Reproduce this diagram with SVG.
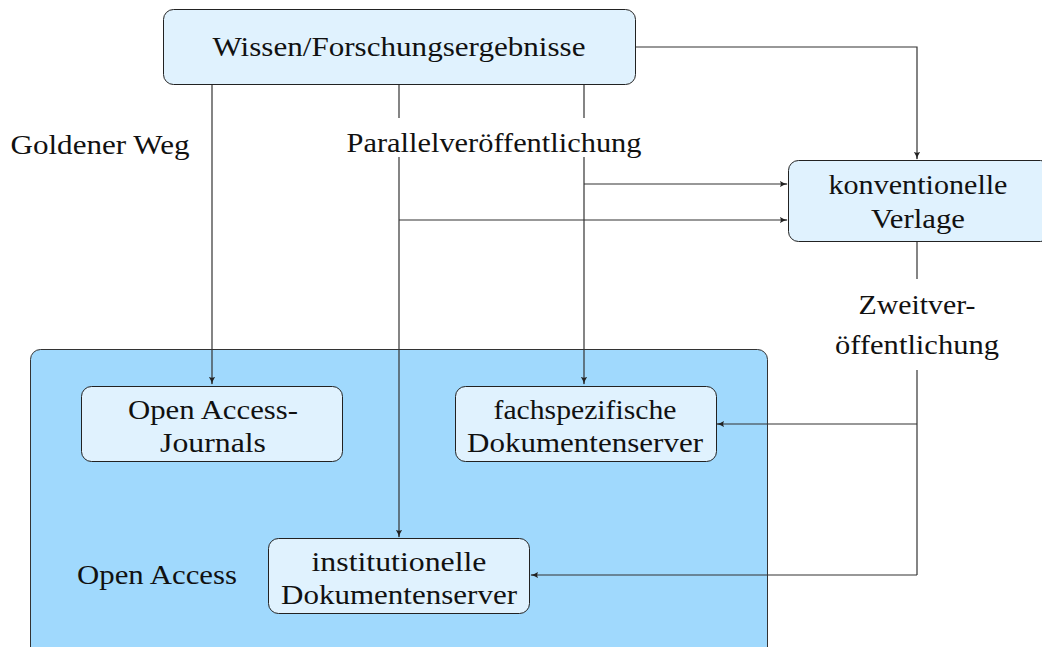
<svg xmlns="http://www.w3.org/2000/svg" width="1042" height="647" viewBox="0 0 1042 647">
  <defs>
    <marker id="arrow" viewBox="0 0 10 10" refX="9" refY="5" markerWidth="8" markerHeight="8" markerUnits="userSpaceOnUse" orient="auto">
      <path d="M0,1 Q5,4.5 10,5 Q5,5.5 0,9 Q2.5,5 0,1 Z" fill="#222"/>
    </marker>
    <style>
      .node { fill: #e0f2fe; stroke: #222; stroke-width: 1; }
      .region { fill: #a0d9fd; stroke: #333; stroke-width: 1; }
      .lbl { font-family: "Liberation Serif", "DejaVu Serif", serif; font-size: 27px; fill: #111; text-anchor: middle; }
      .edge { fill: none; stroke: #333; stroke-width: 1.2; }
      .arr { marker-end: url(#arrow); }
      .mask { fill: #fff; }
    </style>
  </defs>

  <!-- Open Access area -->
  <g id="open-access">
    <rect class="region" x="30.5" y="349.5" width="737" height="310" rx="10"/>
    <text class="lbl" x="157" y="584" textLength="160" lengthAdjust="spacingAndGlyphs">Open Access</text>
  </g>

  <!-- connectors -->
  <g id="connectors">
    <path class="edge arr" d="M212,85 V384"/>
    <path class="edge arr" d="M399,85 V537"/>
    <path class="edge arr" d="M584,85 V384"/>
    <path class="edge arr" d="M584,184 H787"/>
    <path class="edge arr" d="M399,220 H787"/>
    <path class="edge arr" d="M636,47 H917 V159"/>
    <path class="edge" d="M917,242 V575"/>
    <path class="edge arr" d="M917,424 H717"/>
    <path class="edge arr" d="M917,575 H531"/>
  </g>

  <!-- edge labels -->
  <g id="label-goldener-weg">
    <text class="lbl" x="100" y="154" textLength="179" lengthAdjust="spacingAndGlyphs">Goldener Weg</text>
  </g>
  <g id="label-parallel">
    <rect class="mask" x="343" y="118" width="302" height="39"/>
    <text class="lbl" x="494" y="152" textLength="295" lengthAdjust="spacingAndGlyphs">Parallelveröffentlichung</text>
  </g>
  <g id="label-zweit">
    <rect class="mask" x="830" y="279" width="174" height="91"/>
    <text class="lbl" x="917" y="314" textLength="117" lengthAdjust="spacingAndGlyphs">Zweitver-</text>
    <text class="lbl" x="917" y="354" textLength="164" lengthAdjust="spacingAndGlyphs">öffentlichung</text>
  </g>

  <!-- nodes -->
  <g id="wissen">
    <rect class="node" x="163.5" y="9.5" width="472" height="75" rx="10"/>
    <text class="lbl" x="399" y="56" textLength="373" lengthAdjust="spacingAndGlyphs">Wissen/Forschungsergebnisse</text>
  </g>
  <g id="verlage">
    <rect class="node" x="788.5" y="160.5" width="262" height="81" rx="10"/>
    <text class="lbl" x="918" y="194" textLength="179" lengthAdjust="spacingAndGlyphs">konventionelle</text>
    <text class="lbl" x="918" y="228" textLength="94" lengthAdjust="spacingAndGlyphs">Verlage</text>
  </g>
  <g id="oa-journals">
    <rect class="node" x="81.5" y="386.5" width="261" height="75" rx="10"/>
    <text class="lbl" x="213" y="419" textLength="170" lengthAdjust="spacingAndGlyphs">Open Access-</text>
    <text class="lbl" x="213" y="452" textLength="106" lengthAdjust="spacingAndGlyphs">Journals</text>
  </g>
  <g id="fach-server">
    <rect class="node" x="455.5" y="386.5" width="261" height="75" rx="10"/>
    <text class="lbl" x="585" y="419" textLength="183" lengthAdjust="spacingAndGlyphs">fachspezifische</text>
    <text class="lbl" x="585" y="452" textLength="236" lengthAdjust="spacingAndGlyphs">Dokumentenserver</text>
  </g>
  <g id="inst-server">
    <rect class="node" x="268.5" y="538.5" width="261" height="75" rx="10"/>
    <text class="lbl" x="399" y="571" textLength="175" lengthAdjust="spacingAndGlyphs">institutionelle</text>
    <text class="lbl" x="399" y="604" textLength="236" lengthAdjust="spacingAndGlyphs">Dokumentenserver</text>
  </g>
</svg>
